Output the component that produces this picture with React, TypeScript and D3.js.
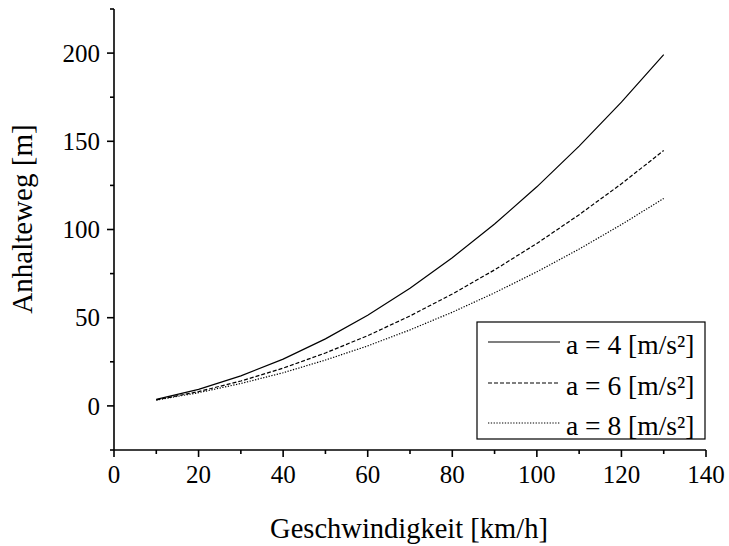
import React from "react";
import * as d3 from "d3";

const speeds = [10, 20, 30, 40, 50, 60, 70, 80, 90, 100, 110, 120, 130];
const distA4 = [3.7, 9.4, 17.0, 26.5, 38.0, 51.4, 66.7, 84.0, 103.1, 124.2, 147.3, 172.2, 199.1];
const distA6 = [3.4, 8.1, 14.1, 21.4, 30.0, 39.8, 51.0, 63.4, 77.1, 92.1, 108.4, 125.9, 144.8];
const distA8 = [3.3, 7.5, 12.7, 18.8, 26.0, 34.0, 43.1, 53.1, 64.1, 76.0, 88.9, 102.8, 117.6];
const seriesLabels = ["a = 4 [m/s²]", "a = 6 [m/s²]", "a = 8 [m/s²]"];
const xTicks = [0, 20, 40, 60, 80, 100, 120, 140];
const xMinor = [10, 30, 50, 70, 90, 110, 130];
const yTicks = [0, 50, 100, 150, 200];
const yMinor = [-25, 25, 75, 125, 175, 225];

const W = 729;
const H = 546;
const FONT = "'Liberation Serif', 'DejaVu Serif', serif";

export default function App() {
  const x = d3.scaleLinear().domain([0, 140]).range([114, 706]);
  const y = d3.scaleLinear().domain([-25, 225]).range([450, 9]);
  const line = d3
    .line<[number, number]>()
    .x((d) => x(d[0]))
    .y((d) => y(d[1]));
  const series = [distA4, distA6, distA8];
  const dashes = ["none", "4,2", "1.3,1.5"];

  const legendX = 477;
  const legendY = 322;
  const legendW = 228;
  const legendH = 117;
  const rowYs = [342, 383, 423];

  return (
    <svg
      width={W}
      height={H}
      style={{ position: "fixed", left: 0, top: 0, background: "#fff" }}
      fontFamily={FONT}
    >
      <rect x={0} y={0} width={W} height={H} fill="#fff" />
      {series.map((vals, i) => (
        <path
          key={i}
          d={line(speeds.map((s, j) => [s, vals[j]] as [number, number])) || ""}
          fill="none"
          stroke="#000"
          strokeWidth={1.2}
          strokeDasharray={dashes[i]}
        />
      ))}
      <line x1={x(0)} x2={x(140)} y1={y(-25)} y2={y(-25)} stroke="#000" strokeWidth={1.6} />
      {xTicks.map((t) => (
        <g key={"xt" + t}>
          <line x1={x(t)} x2={x(t)} y1={y(-25)} y2={y(-25) + 7} stroke="#000" strokeWidth={1.6} />
          <text x={x(t)} y={y(-25) + 33} textAnchor="middle" fontSize={25}>
            {t}
          </text>
        </g>
      ))}
      {xMinor.map((t) => (
        <line key={"xm" + t} x1={x(t)} x2={x(t)} y1={y(-25)} y2={y(-25) + 4} stroke="#000" strokeWidth={1.6} />
      ))}
      <line x1={x(0)} x2={x(0)} y1={y(-25)} y2={y(225)} stroke="#000" strokeWidth={1.6} />
      {yTicks.map((t) => (
        <g key={"yt" + t}>
          <line x1={x(0) - 7} x2={x(0)} y1={y(t)} y2={y(t)} stroke="#000" strokeWidth={1.6} />
          <text x={x(0) - 14} y={y(t)} dy="0.35em" textAnchor="end" fontSize={25}>
            {t}
          </text>
        </g>
      ))}
      {yMinor.map((t) => (
        <line key={"ym" + t} x1={x(0) - 4} x2={x(0)} y1={y(t)} y2={y(t)} stroke="#000" strokeWidth={1.6} />
      ))}
      <text x={409} y={538} textAnchor="middle" fontSize={28.5}>
        Geschwindigkeit [km/h]
      </text>
      <text transform={`translate(32, 219) rotate(-90)`} textAnchor="middle" fontSize={29}>
        Anhalteweg [m]
      </text>
      <rect x={legendX} y={legendY} width={legendW} height={legendH} fill="#fff" stroke="#000" strokeWidth={1.2} />
      {seriesLabels.map((lab, i) => (
        <g key={"lg" + i}>
          <line
            x1={488}
            x2={560}
            y1={rowYs[i]}
            y2={rowYs[i]}
            stroke="#000"
            strokeWidth={1.2}
            strokeDasharray={dashes[i]}
          />
          <text x={566} y={rowYs[i] + 12} fontSize={27.5}>
            {lab}
          </text>
        </g>
      ))}
    </svg>
  );
}
